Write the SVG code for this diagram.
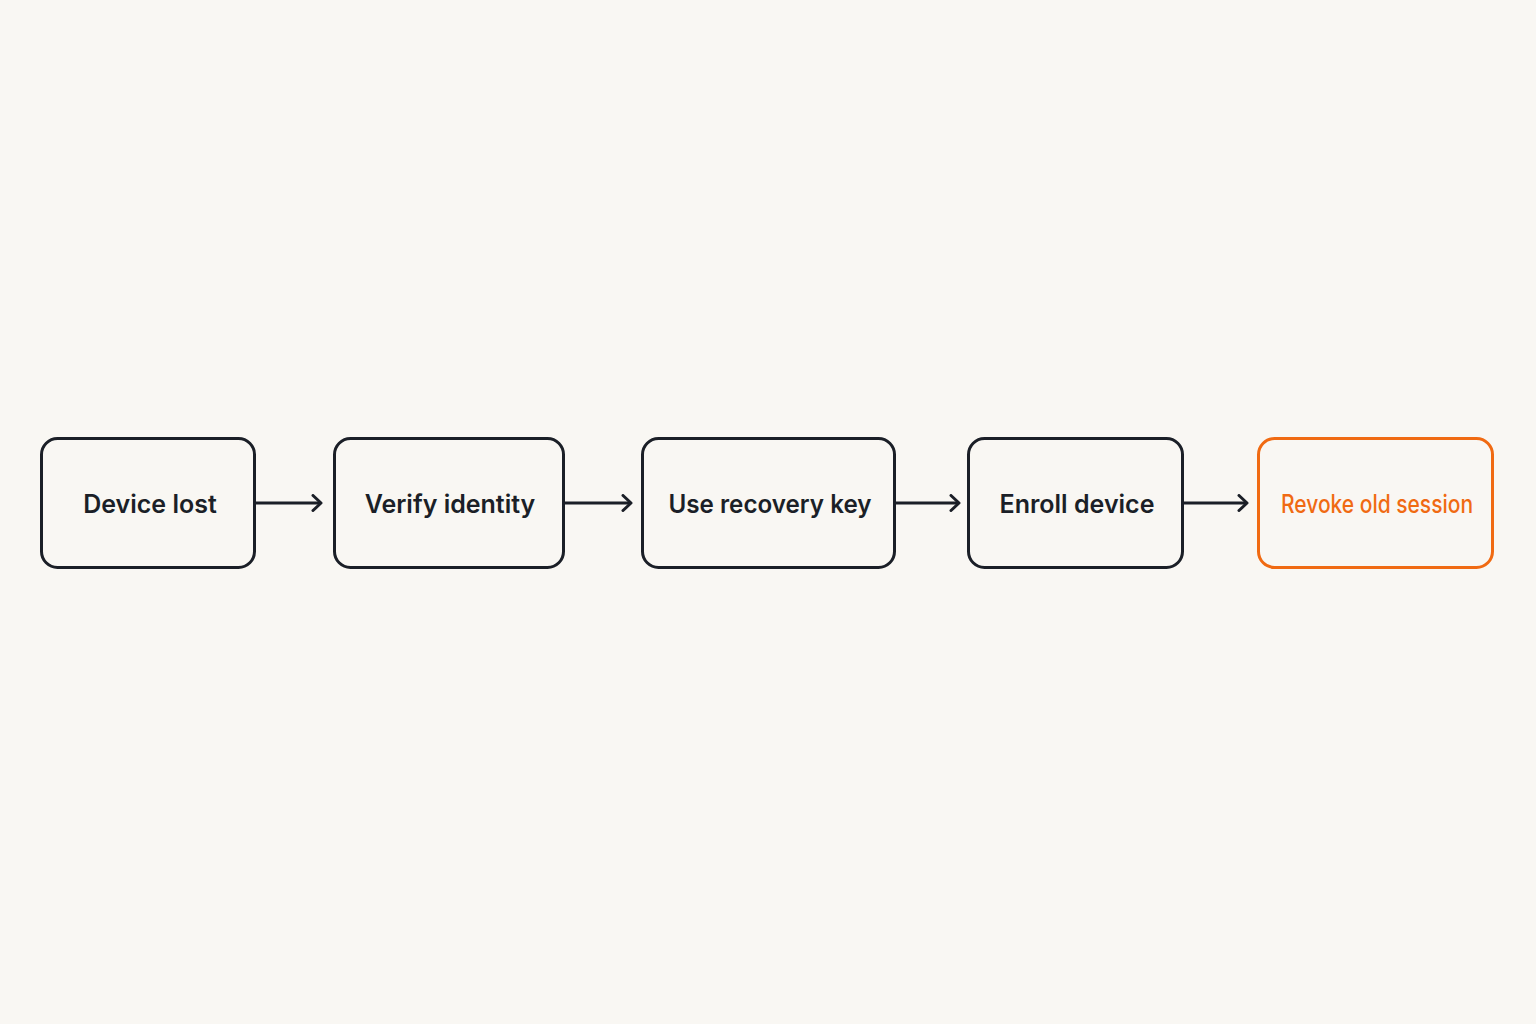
<svg xmlns="http://www.w3.org/2000/svg" width="1536" height="1024" viewBox="0 0 1536 1024">
<defs>
<marker id="ah" viewBox="0 0 12 18" refX="10" refY="9" markerWidth="12" markerHeight="18" markerUnits="userSpaceOnUse" orient="auto">
<path d="M2,1.5 L10,9 L2,16.5" fill="none" stroke="#1b1f27" stroke-width="3" stroke-linecap="round" stroke-linejoin="round"/>
</marker>
<style>
.box{fill:none;stroke:#1b1f27;stroke-width:3}
.hl{fill:none;stroke:#f06a12;stroke-width:3}
.t{font-family:Inter,"Noto Sans",sans-serif;font-size:25px;font-weight:600;fill:#1b1f27;text-anchor:middle}
.to{fill:#f06a12;font-weight:500}
.c{stroke:#1b1f27;stroke-width:2.8;fill:none}
</style>
</defs>
<rect width="1536" height="1024" fill="#f9f7f3"/>
<g id="connectors">
<line class="c" x1="256" y1="503" x2="321" y2="503" marker-end="url(#ah)"/>
<line class="c" x1="565" y1="503" x2="631" y2="503" marker-end="url(#ah)"/>
<line class="c" x1="896" y1="503" x2="959" y2="503" marker-end="url(#ah)"/>
<line class="c" x1="1184" y1="503" x2="1247" y2="503" marker-end="url(#ah)"/>
</g>
<g id="n1"><rect class="box" x="41.5" y="438.5" width="213" height="129" rx="16"/><text class="t" x="150" y="513">Device lost</text></g>
<g id="n2"><rect class="box" x="334.5" y="438.5" width="229" height="129" rx="16"/><text class="t" x="450" y="513">Verify identity</text></g>
<g id="n3"><rect class="box" x="642.5" y="438.5" width="252" height="129" rx="16"/><text class="t" x="770" y="513" textLength="203" lengthAdjust="spacingAndGlyphs">Use recovery key</text></g>
<g id="n4"><rect class="box" x="968.5" y="438.5" width="214" height="129" rx="16"/><text class="t" x="1077" y="513">Enroll device</text></g>
<g id="n5"><rect class="hl" x="1258.5" y="438.5" width="234" height="129" rx="16"/><text class="t to" x="1377" y="513" textLength="192" lengthAdjust="spacingAndGlyphs">Revoke old session</text></g>
</svg>
